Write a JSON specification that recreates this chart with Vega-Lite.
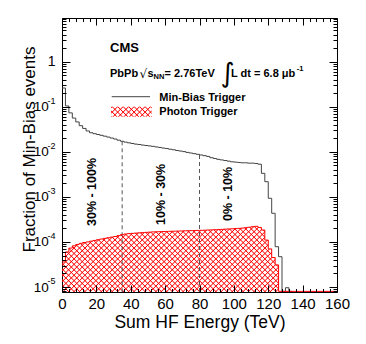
{
"$schema":"https://vega.github.io/schema/vega-lite/v6.json",
"width":275,"height":274,"autosize":"none",
"padding":{"left":62,"top":18,"right":29,"bottom":52},
"background":"white",
"config":{"view":{"stroke":"black","strokeWidth":1},"font":"Liberation Sans","axis":{"grid":false,"domain":false,"tickColor":"black","tickWidth":1,"labelColor":"black","titleColor":"black","labelFont":"Liberation Sans","titleFont":"Liberation Sans","titleFontWeight":"normal"},"text":{"font":"Liberation Sans","color":"black"}},
"datasets":{
"minbias":[{"e":0,"f":0.26},{"e":2,"f":0.104},{"e":4,"f":0.073},{"e":6,"f":0.056},{"e":8,"f":0.046},{"e":10,"f":0.038},{"e":12,"f":0.033},{"e":14,"f":0.029},{"e":16,"f":0.0265},{"e":18,"f":0.0252},{"e":20,"f":0.0242},{"e":22,"f":0.0232},{"e":24,"f":0.0222},{"e":26,"f":0.0212},{"e":28,"f":0.0202},{"e":30,"f":0.0192},{"e":32,"f":0.0181},{"e":34,"f":0.0171},{"e":36,"f":0.0164},{"e":38,"f":0.0158},{"e":40,"f":0.0153},{"e":42,"f":0.0148},{"e":44,"f":0.0145},{"e":46,"f":0.0141},{"e":48,"f":0.0138},{"e":50,"f":0.0135},{"e":52,"f":0.0132},{"e":54,"f":0.0128},{"e":56,"f":0.0125},{"e":58,"f":0.0121},{"e":60,"f":0.0118},{"e":62,"f":0.0114},{"e":64,"f":0.0111},{"e":66,"f":0.0107},{"e":68,"f":0.0104},{"e":70,"f":0.0101},{"e":72,"f":0.0097},{"e":74,"f":0.0094},{"e":76,"f":0.0091},{"e":78,"f":0.0088},{"e":80,"f":0.0085},{"e":82,"f":0.0082},{"e":84,"f":0.0079},{"e":86,"f":0.0074},{"e":88,"f":0.0071},{"e":90,"f":0.0068},{"e":92,"f":0.0066},{"e":94,"f":0.0064},{"e":96,"f":0.0062},{"e":98,"f":0.006},{"e":100,"f":0.0059},{"e":102,"f":0.0058},{"e":104,"f":0.0057},{"e":106,"f":0.0057},{"e":108,"f":0.0056},{"e":110,"f":0.0056},{"e":112,"f":0.0055},{"e":114,"f":0.0053},{"e":116,"f":0.00333},{"e":118,"f":0.00217},{"e":120,"f":0.00093},{"e":122,"f":0.000432},{"e":124,"f":0.0000784},{"e":126,"f":0.000047},{"e":128,"f":0.000008},{"e":130,"f":0.00000965},{"e":132,"f":0.000008},{"e":134,"f":0.000008}],
"photon":[{"e":0,"f":0.000036},{"e":2,"f":0.00006},{"e":4,"f":0.000073},{"e":6,"f":0.000082},{"e":8,"f":0.000088},{"e":10,"f":0.000093},{"e":12,"f":0.000097},{"e":14,"f":0.0001},{"e":16,"f":0.000104},{"e":18,"f":0.000108},{"e":20,"f":0.000112},{"e":22,"f":0.000116},{"e":24,"f":0.00012},{"e":26,"f":0.000124},{"e":28,"f":0.000128},{"e":30,"f":0.000132},{"e":32,"f":0.000138},{"e":34,"f":0.000145},{"e":36,"f":0.00015},{"e":38,"f":0.000153},{"e":40,"f":0.000155},{"e":42,"f":0.000157},{"e":44,"f":0.000159},{"e":46,"f":0.000161},{"e":48,"f":0.000163},{"e":50,"f":0.000165},{"e":52,"f":0.000167},{"e":54,"f":0.000168},{"e":56,"f":0.000169},{"e":58,"f":0.00017},{"e":60,"f":0.000171},{"e":62,"f":0.000172},{"e":64,"f":0.000173},{"e":66,"f":0.000174},{"e":68,"f":0.000175},{"e":70,"f":0.000176},{"e":72,"f":0.000177},{"e":74,"f":0.000178},{"e":76,"f":0.000179},{"e":78,"f":0.00018},{"e":80,"f":0.000181},{"e":82,"f":0.000182},{"e":84,"f":0.000184},{"e":86,"f":0.000185},{"e":88,"f":0.000187},{"e":90,"f":0.000188},{"e":92,"f":0.00019},{"e":94,"f":0.000192},{"e":96,"f":0.000194},{"e":98,"f":0.000196},{"e":100,"f":0.000198},{"e":102,"f":0.0002},{"e":104,"f":0.000203},{"e":106,"f":0.000207},{"e":108,"f":0.000212},{"e":110,"f":0.000218},{"e":112,"f":0.000222},{"e":114,"f":0.00021},{"e":116,"f":0.000184},{"e":118,"f":0.00011},{"e":120,"f":0.00007},{"e":122,"f":0.000045},{"e":124,"f":0.000031},{"e":126,"f":0.000008},{"e":160,"f":0.000008}],
"cuts":[{"e":35,"f":0.0171},{"e":80,"f":0.0085}],
"legline":[{"e":28.92,"e2":51.2,"f":0.1669}],
"legbox":[{"e":28.51,"e2":52.19,"f":0.1001,"f2":0.06006}],
"cms":[{"e":27.93,"f":1.663,"t":"CMS"}],
"main":[{"e":27.93,"f":0.4636,"t":"PbPb"},{"e":49.75,"f":0.4636,"t":"s"},{"e":59.64,"f":0.4636,"t":"= 2.76TeV"},{"e":98.33,"f":0.4636,"t":"L dt = 6.8 μb"}],
"rad":[{"e":45.09,"f":0.4338,"t":"√"}],
"integ":[{"e":92.2,"f":0.3535,"t":"∫"}],
"small":[{"e":53.24,"f":0.4018,"t":"NN"},{"e":136.6,"f":0.6203,"t":"-1"}],
"legtext":[{"e":56.61,"f":0.1374,"t":"Min-Bias Trigger"},{"e":56.61,"f":0.06553,"t":"Photon Trigger"}],
"cent":[{"e":17.28,"f":0.0002257,"t":"30% - 100%"},{"e":57.6,"f":0.0002376,"t":"10% - 30%"},{"e":96.4,"f":0.0002914,"t":"0% - 10%"}]
},
"resolve":{"axis":{"x":"independent","y":"independent"},"scale":{"x":"shared","y":"shared"}},
"layer":[
{"data":{"name":"photon"},
"mark":{"type":"area","interpolate":"step-after","clip":true,"strokeWidth":0,"fill":{"gradient":"linear","x1":0,"y1":0,"x2":1.1724,"y2":0.2809,"stops":[
{"offset":0,"color":"rgba(255,0,0,0)"},{"offset":0.0032,"color":"#ff0000"},{"offset":0.0064,"color":"rgba(255,0,0,0)"},
{"offset":0.016,"color":"rgba(255,0,0,0)"},{"offset":0.0192,"color":"#ff0000"},{"offset":0.0224,"color":"rgba(255,0,0,0)"},
{"offset":0.032,"color":"rgba(255,0,0,0)"},{"offset":0.0352,"color":"#ff0000"},{"offset":0.0384,"color":"rgba(255,0,0,0)"},
{"offset":0.048,"color":"rgba(255,0,0,0)"},{"offset":0.0512,"color":"#ff0000"},{"offset":0.0544,"color":"rgba(255,0,0,0)"},
{"offset":0.064,"color":"rgba(255,0,0,0)"},{"offset":0.0672,"color":"#ff0000"},{"offset":0.0704,"color":"rgba(255,0,0,0)"},
{"offset":0.08,"color":"rgba(255,0,0,0)"},{"offset":0.0832,"color":"#ff0000"},{"offset":0.0864,"color":"rgba(255,0,0,0)"},
{"offset":0.096,"color":"rgba(255,0,0,0)"},{"offset":0.0992,"color":"#ff0000"},{"offset":0.1024,"color":"rgba(255,0,0,0)"},
{"offset":0.112,"color":"rgba(255,0,0,0)"},{"offset":0.1152,"color":"#ff0000"},{"offset":0.1184,"color":"rgba(255,0,0,0)"},
{"offset":0.128,"color":"rgba(255,0,0,0)"},{"offset":0.1312,"color":"#ff0000"},{"offset":0.1344,"color":"rgba(255,0,0,0)"},
{"offset":0.144,"color":"rgba(255,0,0,0)"},{"offset":0.1472,"color":"#ff0000"},{"offset":0.1504,"color":"rgba(255,0,0,0)"},
{"offset":0.16,"color":"rgba(255,0,0,0)"},{"offset":0.1632,"color":"#ff0000"},{"offset":0.1664,"color":"rgba(255,0,0,0)"},
{"offset":0.176,"color":"rgba(255,0,0,0)"},{"offset":0.1792,"color":"#ff0000"},{"offset":0.1824,"color":"rgba(255,0,0,0)"},
{"offset":0.192,"color":"rgba(255,0,0,0)"},{"offset":0.1952,"color":"#ff0000"},{"offset":0.1984,"color":"rgba(255,0,0,0)"},
{"offset":0.208,"color":"rgba(255,0,0,0)"},{"offset":0.2112,"color":"#ff0000"},{"offset":0.2144,"color":"rgba(255,0,0,0)"},
{"offset":0.224,"color":"rgba(255,0,0,0)"},{"offset":0.2272,"color":"#ff0000"},{"offset":0.2304,"color":"rgba(255,0,0,0)"},
{"offset":0.24,"color":"rgba(255,0,0,0)"},{"offset":0.2432,"color":"#ff0000"},{"offset":0.2464,"color":"rgba(255,0,0,0)"},
{"offset":0.256,"color":"rgba(255,0,0,0)"},{"offset":0.2592,"color":"#ff0000"},{"offset":0.2624,"color":"rgba(255,0,0,0)"},
{"offset":0.272,"color":"rgba(255,0,0,0)"},{"offset":0.2752,"color":"#ff0000"},{"offset":0.2784,"color":"rgba(255,0,0,0)"},
{"offset":0.288,"color":"rgba(255,0,0,0)"},{"offset":0.2912,"color":"#ff0000"},{"offset":0.2944,"color":"rgba(255,0,0,0)"},
{"offset":0.304,"color":"rgba(255,0,0,0)"},{"offset":0.3072,"color":"#ff0000"},{"offset":0.3104,"color":"rgba(255,0,0,0)"},
{"offset":0.32,"color":"rgba(255,0,0,0)"},{"offset":0.3232,"color":"#ff0000"},{"offset":0.3264,"color":"rgba(255,0,0,0)"},
{"offset":0.336,"color":"rgba(255,0,0,0)"},{"offset":0.3392,"color":"#ff0000"},{"offset":0.3424,"color":"rgba(255,0,0,0)"},
{"offset":0.352,"color":"rgba(255,0,0,0)"},{"offset":0.3552,"color":"#ff0000"},{"offset":0.3584,"color":"rgba(255,0,0,0)"},
{"offset":0.368,"color":"rgba(255,0,0,0)"},{"offset":0.3712,"color":"#ff0000"},{"offset":0.3744,"color":"rgba(255,0,0,0)"},
{"offset":0.384,"color":"rgba(255,0,0,0)"},{"offset":0.3872,"color":"#ff0000"},{"offset":0.3904,"color":"rgba(255,0,0,0)"},
{"offset":0.4,"color":"rgba(255,0,0,0)"},{"offset":0.4032,"color":"#ff0000"},{"offset":0.4064,"color":"rgba(255,0,0,0)"},
{"offset":0.416,"color":"rgba(255,0,0,0)"},{"offset":0.4192,"color":"#ff0000"},{"offset":0.4224,"color":"rgba(255,0,0,0)"},
{"offset":0.432,"color":"rgba(255,0,0,0)"},{"offset":0.4352,"color":"#ff0000"},{"offset":0.4384,"color":"rgba(255,0,0,0)"},
{"offset":0.448,"color":"rgba(255,0,0,0)"},{"offset":0.4512,"color":"#ff0000"},{"offset":0.4544,"color":"rgba(255,0,0,0)"},
{"offset":0.464,"color":"rgba(255,0,0,0)"},{"offset":0.4672,"color":"#ff0000"},{"offset":0.4704,"color":"rgba(255,0,0,0)"},
{"offset":0.48,"color":"rgba(255,0,0,0)"},{"offset":0.4832,"color":"#ff0000"},{"offset":0.4864,"color":"rgba(255,0,0,0)"},
{"offset":0.496,"color":"rgba(255,0,0,0)"},{"offset":0.4992,"color":"#ff0000"},{"offset":0.5024,"color":"rgba(255,0,0,0)"},
{"offset":0.512,"color":"rgba(255,0,0,0)"},{"offset":0.5152,"color":"#ff0000"},{"offset":0.5184,"color":"rgba(255,0,0,0)"},
{"offset":0.528,"color":"rgba(255,0,0,0)"},{"offset":0.5312,"color":"#ff0000"},{"offset":0.5344,"color":"rgba(255,0,0,0)"},
{"offset":0.544,"color":"rgba(255,0,0,0)"},{"offset":0.5472,"color":"#ff0000"},{"offset":0.5504,"color":"rgba(255,0,0,0)"},
{"offset":0.56,"color":"rgba(255,0,0,0)"},{"offset":0.5632,"color":"#ff0000"},{"offset":0.5664,"color":"rgba(255,0,0,0)"},
{"offset":0.576,"color":"rgba(255,0,0,0)"},{"offset":0.5792,"color":"#ff0000"},{"offset":0.5824,"color":"rgba(255,0,0,0)"},
{"offset":0.592,"color":"rgba(255,0,0,0)"},{"offset":0.5952,"color":"#ff0000"},{"offset":0.5984,"color":"rgba(255,0,0,0)"},
{"offset":0.608,"color":"rgba(255,0,0,0)"},{"offset":0.6112,"color":"#ff0000"},{"offset":0.6144,"color":"rgba(255,0,0,0)"},
{"offset":0.624,"color":"rgba(255,0,0,0)"},{"offset":0.6272,"color":"#ff0000"},{"offset":0.6304,"color":"rgba(255,0,0,0)"},
{"offset":0.64,"color":"rgba(255,0,0,0)"},{"offset":0.6432,"color":"#ff0000"},{"offset":0.6464,"color":"rgba(255,0,0,0)"},
{"offset":0.656,"color":"rgba(255,0,0,0)"},{"offset":0.6592,"color":"#ff0000"},{"offset":0.6624,"color":"rgba(255,0,0,0)"},
{"offset":0.672,"color":"rgba(255,0,0,0)"},{"offset":0.6752,"color":"#ff0000"},{"offset":0.6784,"color":"rgba(255,0,0,0)"},
{"offset":0.688,"color":"rgba(255,0,0,0)"},{"offset":0.6912,"color":"#ff0000"},{"offset":0.6944,"color":"rgba(255,0,0,0)"},
{"offset":0.704,"color":"rgba(255,0,0,0)"},{"offset":0.7072,"color":"#ff0000"},{"offset":0.7104,"color":"rgba(255,0,0,0)"},
{"offset":0.72,"color":"rgba(255,0,0,0)"},{"offset":0.7232,"color":"#ff0000"},{"offset":0.7264,"color":"rgba(255,0,0,0)"},
{"offset":0.736,"color":"rgba(255,0,0,0)"},{"offset":0.7392,"color":"#ff0000"},{"offset":0.7424,"color":"rgba(255,0,0,0)"},
{"offset":0.752,"color":"rgba(255,0,0,0)"},{"offset":0.7552,"color":"#ff0000"},{"offset":0.7584,"color":"rgba(255,0,0,0)"},
{"offset":0.768,"color":"rgba(255,0,0,0)"},{"offset":0.7712,"color":"#ff0000"},{"offset":0.7744,"color":"rgba(255,0,0,0)"},
{"offset":0.784,"color":"rgba(255,0,0,0)"},{"offset":0.7872,"color":"#ff0000"},{"offset":0.7904,"color":"rgba(255,0,0,0)"},
{"offset":0.8,"color":"rgba(255,0,0,0)"},{"offset":0.8032,"color":"#ff0000"},{"offset":0.8064,"color":"rgba(255,0,0,0)"},
{"offset":0.816,"color":"rgba(255,0,0,0)"},{"offset":0.8192,"color":"#ff0000"},{"offset":0.8224,"color":"rgba(255,0,0,0)"},
{"offset":0.832,"color":"rgba(255,0,0,0)"},{"offset":0.8352,"color":"#ff0000"},{"offset":0.8384,"color":"rgba(255,0,0,0)"},
{"offset":0.848,"color":"rgba(255,0,0,0)"},{"offset":0.8512,"color":"#ff0000"},{"offset":0.8544,"color":"rgba(255,0,0,0)"},
{"offset":0.864,"color":"rgba(255,0,0,0)"},{"offset":0.8672,"color":"#ff0000"},{"offset":0.8704,"color":"rgba(255,0,0,0)"},
{"offset":0.88,"color":"rgba(255,0,0,0)"},{"offset":0.8832,"color":"#ff0000"},{"offset":0.8864,"color":"rgba(255,0,0,0)"},
{"offset":0.896,"color":"rgba(255,0,0,0)"},{"offset":0.8992,"color":"#ff0000"},{"offset":0.9024,"color":"rgba(255,0,0,0)"},
{"offset":0.912,"color":"rgba(255,0,0,0)"},{"offset":0.9152,"color":"#ff0000"},{"offset":0.9184,"color":"rgba(255,0,0,0)"},
{"offset":0.928,"color":"rgba(255,0,0,0)"},{"offset":0.9312,"color":"#ff0000"},{"offset":0.9344,"color":"rgba(255,0,0,0)"},
{"offset":0.944,"color":"rgba(255,0,0,0)"},{"offset":0.9472,"color":"#ff0000"},{"offset":0.9504,"color":"rgba(255,0,0,0)"},
{"offset":0.96,"color":"rgba(255,0,0,0)"},{"offset":0.9632,"color":"#ff0000"},{"offset":0.9664,"color":"rgba(255,0,0,0)"},
{"offset":0.976,"color":"rgba(255,0,0,0)"},{"offset":0.9792,"color":"#ff0000"},{"offset":0.9824,"color":"rgba(255,0,0,0)"},
{"offset":0.992,"color":"rgba(255,0,0,0)"},{"offset":0.9952,"color":"#ff0000"},{"offset":0.9984,"color":"rgba(255,0,0,0)"}]}},
"encoding":{
"x":{"field":"e","type":"quantitative","scale":{"domain":[0,160],"nice":false,"zero":false},"axis":{"orient":"bottom","values":[0,20,40,60,80,100,120,140,160],"tickSize":-7,"labelFontSize":15,"labelPadding":11,"labelFlush":false,"labelOverlap":false,"title":"Sum HF Energy (TeV)","titleFontSize":17.5,"titleY":35,"titleBaseline":"alphabetic","zindex":1}},
"y":{"field":"f","type":"quantitative","scale":{"type":"log","domain":[0.00000775,9.3],"nice":false},"axis":{"orient":"left","values":[0.00001,0.0001,0.001,0.01,0.1,1],"tickSize":-8,"labelExpr":"datum.value >= 1 ? '' : '10'","labelFontSize":13.5,"labelPadding":21.7,"labelAlign":"right","labelBaseline":"middle","labelOverlap":false,"labelFlush":false,"title":"Fraction of Min-Bias events","titleFontSize":17,"titleX":-28,"titleY":131,"titleAngle":270,"titleBaseline":"alphabetic","titleAlign":"center","zindex":1}},
"y2":{"datum":0.00000775}}},
{"data":{"name":"photon"},
"mark":{"type":"area","interpolate":"step-after","clip":true,"strokeWidth":0,"fill":{"gradient":"linear","x1":1,"y1":0,"x2":-0.1724,"y2":0.2809,"stops":[
{"offset":0,"color":"rgba(255,0,0,0)"},{"offset":0.0032,"color":"#ff0000"},{"offset":0.0064,"color":"rgba(255,0,0,0)"},
{"offset":0.016,"color":"rgba(255,0,0,0)"},{"offset":0.0192,"color":"#ff0000"},{"offset":0.0224,"color":"rgba(255,0,0,0)"},
{"offset":0.032,"color":"rgba(255,0,0,0)"},{"offset":0.0352,"color":"#ff0000"},{"offset":0.0384,"color":"rgba(255,0,0,0)"},
{"offset":0.048,"color":"rgba(255,0,0,0)"},{"offset":0.0512,"color":"#ff0000"},{"offset":0.0544,"color":"rgba(255,0,0,0)"},
{"offset":0.064,"color":"rgba(255,0,0,0)"},{"offset":0.0672,"color":"#ff0000"},{"offset":0.0704,"color":"rgba(255,0,0,0)"},
{"offset":0.08,"color":"rgba(255,0,0,0)"},{"offset":0.0832,"color":"#ff0000"},{"offset":0.0864,"color":"rgba(255,0,0,0)"},
{"offset":0.096,"color":"rgba(255,0,0,0)"},{"offset":0.0992,"color":"#ff0000"},{"offset":0.1024,"color":"rgba(255,0,0,0)"},
{"offset":0.112,"color":"rgba(255,0,0,0)"},{"offset":0.1152,"color":"#ff0000"},{"offset":0.1184,"color":"rgba(255,0,0,0)"},
{"offset":0.128,"color":"rgba(255,0,0,0)"},{"offset":0.1312,"color":"#ff0000"},{"offset":0.1344,"color":"rgba(255,0,0,0)"},
{"offset":0.144,"color":"rgba(255,0,0,0)"},{"offset":0.1472,"color":"#ff0000"},{"offset":0.1504,"color":"rgba(255,0,0,0)"},
{"offset":0.16,"color":"rgba(255,0,0,0)"},{"offset":0.1632,"color":"#ff0000"},{"offset":0.1664,"color":"rgba(255,0,0,0)"},
{"offset":0.176,"color":"rgba(255,0,0,0)"},{"offset":0.1792,"color":"#ff0000"},{"offset":0.1824,"color":"rgba(255,0,0,0)"},
{"offset":0.192,"color":"rgba(255,0,0,0)"},{"offset":0.1952,"color":"#ff0000"},{"offset":0.1984,"color":"rgba(255,0,0,0)"},
{"offset":0.208,"color":"rgba(255,0,0,0)"},{"offset":0.2112,"color":"#ff0000"},{"offset":0.2144,"color":"rgba(255,0,0,0)"},
{"offset":0.224,"color":"rgba(255,0,0,0)"},{"offset":0.2272,"color":"#ff0000"},{"offset":0.2304,"color":"rgba(255,0,0,0)"},
{"offset":0.24,"color":"rgba(255,0,0,0)"},{"offset":0.2432,"color":"#ff0000"},{"offset":0.2464,"color":"rgba(255,0,0,0)"},
{"offset":0.256,"color":"rgba(255,0,0,0)"},{"offset":0.2592,"color":"#ff0000"},{"offset":0.2624,"color":"rgba(255,0,0,0)"},
{"offset":0.272,"color":"rgba(255,0,0,0)"},{"offset":0.2752,"color":"#ff0000"},{"offset":0.2784,"color":"rgba(255,0,0,0)"},
{"offset":0.288,"color":"rgba(255,0,0,0)"},{"offset":0.2912,"color":"#ff0000"},{"offset":0.2944,"color":"rgba(255,0,0,0)"},
{"offset":0.304,"color":"rgba(255,0,0,0)"},{"offset":0.3072,"color":"#ff0000"},{"offset":0.3104,"color":"rgba(255,0,0,0)"},
{"offset":0.32,"color":"rgba(255,0,0,0)"},{"offset":0.3232,"color":"#ff0000"},{"offset":0.3264,"color":"rgba(255,0,0,0)"},
{"offset":0.336,"color":"rgba(255,0,0,0)"},{"offset":0.3392,"color":"#ff0000"},{"offset":0.3424,"color":"rgba(255,0,0,0)"},
{"offset":0.352,"color":"rgba(255,0,0,0)"},{"offset":0.3552,"color":"#ff0000"},{"offset":0.3584,"color":"rgba(255,0,0,0)"},
{"offset":0.368,"color":"rgba(255,0,0,0)"},{"offset":0.3712,"color":"#ff0000"},{"offset":0.3744,"color":"rgba(255,0,0,0)"},
{"offset":0.384,"color":"rgba(255,0,0,0)"},{"offset":0.3872,"color":"#ff0000"},{"offset":0.3904,"color":"rgba(255,0,0,0)"},
{"offset":0.4,"color":"rgba(255,0,0,0)"},{"offset":0.4032,"color":"#ff0000"},{"offset":0.4064,"color":"rgba(255,0,0,0)"},
{"offset":0.416,"color":"rgba(255,0,0,0)"},{"offset":0.4192,"color":"#ff0000"},{"offset":0.4224,"color":"rgba(255,0,0,0)"},
{"offset":0.432,"color":"rgba(255,0,0,0)"},{"offset":0.4352,"color":"#ff0000"},{"offset":0.4384,"color":"rgba(255,0,0,0)"},
{"offset":0.448,"color":"rgba(255,0,0,0)"},{"offset":0.4512,"color":"#ff0000"},{"offset":0.4544,"color":"rgba(255,0,0,0)"},
{"offset":0.464,"color":"rgba(255,0,0,0)"},{"offset":0.4672,"color":"#ff0000"},{"offset":0.4704,"color":"rgba(255,0,0,0)"},
{"offset":0.48,"color":"rgba(255,0,0,0)"},{"offset":0.4832,"color":"#ff0000"},{"offset":0.4864,"color":"rgba(255,0,0,0)"},
{"offset":0.496,"color":"rgba(255,0,0,0)"},{"offset":0.4992,"color":"#ff0000"},{"offset":0.5024,"color":"rgba(255,0,0,0)"},
{"offset":0.512,"color":"rgba(255,0,0,0)"},{"offset":0.5152,"color":"#ff0000"},{"offset":0.5184,"color":"rgba(255,0,0,0)"},
{"offset":0.528,"color":"rgba(255,0,0,0)"},{"offset":0.5312,"color":"#ff0000"},{"offset":0.5344,"color":"rgba(255,0,0,0)"},
{"offset":0.544,"color":"rgba(255,0,0,0)"},{"offset":0.5472,"color":"#ff0000"},{"offset":0.5504,"color":"rgba(255,0,0,0)"},
{"offset":0.56,"color":"rgba(255,0,0,0)"},{"offset":0.5632,"color":"#ff0000"},{"offset":0.5664,"color":"rgba(255,0,0,0)"},
{"offset":0.576,"color":"rgba(255,0,0,0)"},{"offset":0.5792,"color":"#ff0000"},{"offset":0.5824,"color":"rgba(255,0,0,0)"},
{"offset":0.592,"color":"rgba(255,0,0,0)"},{"offset":0.5952,"color":"#ff0000"},{"offset":0.5984,"color":"rgba(255,0,0,0)"},
{"offset":0.608,"color":"rgba(255,0,0,0)"},{"offset":0.6112,"color":"#ff0000"},{"offset":0.6144,"color":"rgba(255,0,0,0)"},
{"offset":0.624,"color":"rgba(255,0,0,0)"},{"offset":0.6272,"color":"#ff0000"},{"offset":0.6304,"color":"rgba(255,0,0,0)"},
{"offset":0.64,"color":"rgba(255,0,0,0)"},{"offset":0.6432,"color":"#ff0000"},{"offset":0.6464,"color":"rgba(255,0,0,0)"},
{"offset":0.656,"color":"rgba(255,0,0,0)"},{"offset":0.6592,"color":"#ff0000"},{"offset":0.6624,"color":"rgba(255,0,0,0)"},
{"offset":0.672,"color":"rgba(255,0,0,0)"},{"offset":0.6752,"color":"#ff0000"},{"offset":0.6784,"color":"rgba(255,0,0,0)"},
{"offset":0.688,"color":"rgba(255,0,0,0)"},{"offset":0.6912,"color":"#ff0000"},{"offset":0.6944,"color":"rgba(255,0,0,0)"},
{"offset":0.704,"color":"rgba(255,0,0,0)"},{"offset":0.7072,"color":"#ff0000"},{"offset":0.7104,"color":"rgba(255,0,0,0)"},
{"offset":0.72,"color":"rgba(255,0,0,0)"},{"offset":0.7232,"color":"#ff0000"},{"offset":0.7264,"color":"rgba(255,0,0,0)"},
{"offset":0.736,"color":"rgba(255,0,0,0)"},{"offset":0.7392,"color":"#ff0000"},{"offset":0.7424,"color":"rgba(255,0,0,0)"},
{"offset":0.752,"color":"rgba(255,0,0,0)"},{"offset":0.7552,"color":"#ff0000"},{"offset":0.7584,"color":"rgba(255,0,0,0)"},
{"offset":0.768,"color":"rgba(255,0,0,0)"},{"offset":0.7712,"color":"#ff0000"},{"offset":0.7744,"color":"rgba(255,0,0,0)"},
{"offset":0.784,"color":"rgba(255,0,0,0)"},{"offset":0.7872,"color":"#ff0000"},{"offset":0.7904,"color":"rgba(255,0,0,0)"},
{"offset":0.8,"color":"rgba(255,0,0,0)"},{"offset":0.8032,"color":"#ff0000"},{"offset":0.8064,"color":"rgba(255,0,0,0)"},
{"offset":0.816,"color":"rgba(255,0,0,0)"},{"offset":0.8192,"color":"#ff0000"},{"offset":0.8224,"color":"rgba(255,0,0,0)"},
{"offset":0.832,"color":"rgba(255,0,0,0)"},{"offset":0.8352,"color":"#ff0000"},{"offset":0.8384,"color":"rgba(255,0,0,0)"},
{"offset":0.848,"color":"rgba(255,0,0,0)"},{"offset":0.8512,"color":"#ff0000"},{"offset":0.8544,"color":"rgba(255,0,0,0)"},
{"offset":0.864,"color":"rgba(255,0,0,0)"},{"offset":0.8672,"color":"#ff0000"},{"offset":0.8704,"color":"rgba(255,0,0,0)"},
{"offset":0.88,"color":"rgba(255,0,0,0)"},{"offset":0.8832,"color":"#ff0000"},{"offset":0.8864,"color":"rgba(255,0,0,0)"},
{"offset":0.896,"color":"rgba(255,0,0,0)"},{"offset":0.8992,"color":"#ff0000"},{"offset":0.9024,"color":"rgba(255,0,0,0)"},
{"offset":0.912,"color":"rgba(255,0,0,0)"},{"offset":0.9152,"color":"#ff0000"},{"offset":0.9184,"color":"rgba(255,0,0,0)"},
{"offset":0.928,"color":"rgba(255,0,0,0)"},{"offset":0.9312,"color":"#ff0000"},{"offset":0.9344,"color":"rgba(255,0,0,0)"},
{"offset":0.944,"color":"rgba(255,0,0,0)"},{"offset":0.9472,"color":"#ff0000"},{"offset":0.9504,"color":"rgba(255,0,0,0)"},
{"offset":0.96,"color":"rgba(255,0,0,0)"},{"offset":0.9632,"color":"#ff0000"},{"offset":0.9664,"color":"rgba(255,0,0,0)"},
{"offset":0.976,"color":"rgba(255,0,0,0)"},{"offset":0.9792,"color":"#ff0000"},{"offset":0.9824,"color":"rgba(255,0,0,0)"},
{"offset":0.992,"color":"rgba(255,0,0,0)"},{"offset":0.9952,"color":"#ff0000"},{"offset":0.9984,"color":"rgba(255,0,0,0)"}]}},
"encoding":{
"x":{"field":"e","type":"quantitative","scale":{"domain":[0,160],"nice":false,"zero":false},"axis":{"orient":"bottom","values":[4,8,12,16,24,28,32,36,44,48,52,56,64,68,72,76,84,88,92,96,104,108,112,116,124,128,132,136,144,148,152,156],"tickSize":-3.5,"labels":false,"title":null,"zindex":1}},
"y":{"field":"f","type":"quantitative","scale":{"type":"log","domain":[0.00000775,9.3],"nice":false},"axis":{"orient":"left","values":[0.00001,0.0001,0.001,0.01,0.1,1],"ticks":false,"labelExpr":"datum.value >= 1 ? '1' : '-' + round(-log(datum.value)/LN10)","labelFontSize":{"condition":{"test":"datum.value >= 1","value":14},"value":9},"labelOffset":{"condition":{"test":"datum.value >= 1","value":0},"value":-6.5},"labelPadding":7,"labelAlign":"right","labelBaseline":"middle","labelOverlap":false,"labelFlush":false,"title":null}},
"y2":{"datum":0.00000775}}},
{"data":{"name":"cuts"},
"mark":{"type":"rule","color":"#555555","strokeDash":[4,3],"strokeWidth":1,"clip":true},
"encoding":{
"x":{"field":"e","type":"quantitative","scale":{"domain":[0,160],"nice":false,"zero":false},"axis":{"orient":"top","values":[0,20,40,60,80,100,120,140,160],"tickSize":-7,"labels":false,"title":null,"zindex":1}},
"y":{"field":"f","type":"quantitative","scale":{"type":"log","domain":[0.00000775,9.3],"nice":false},"axis":{"orient":"left","values":[0.000008,0.000009,0.00002,0.00003,0.00004,0.00005,0.00006,0.00007,0.00008,0.00009,0.0002,0.0003,0.0004,0.0005,0.0006,0.0007,0.0008,0.0009,0.002,0.003,0.004,0.005,0.006,0.007,0.008,0.009,0.02,0.03,0.04,0.05,0.06,0.07,0.08,0.09,0.2,0.3,0.4,0.5,0.6,0.7,0.8,0.9,2,3,4,5,6,7,8,9],"tickSize":-4,"labels":false,"title":null,"zindex":1}},
"y2":{"datum":0.00000775}}},
{"data":{"name":"minbias"},
"mark":{"type":"line","interpolate":"step-after","clip":true,"color":"#444444","strokeWidth":1},
"encoding":{
"x":{"field":"e","type":"quantitative","scale":{"domain":[0,160],"nice":false,"zero":false},"axis":{"orient":"top","values":[4,8,12,16,24,28,32,36,44,48,52,56,64,68,72,76,84,88,92,96,104,108,112,116,124,128,132,136,144,148,152,156],"tickSize":-3.5,"labels":false,"title":null,"zindex":1}},
"y":{"field":"f","type":"quantitative","scale":{"type":"log","domain":[0.00000775,9.3],"nice":false},"axis":{"orient":"right","values":[0.00001,0.0001,0.001,0.01,0.1,1],"tickSize":-8,"labels":false,"title":null,"zindex":1}}}},
{"data":{"name":"photon"},
"mark":{"type":"line","interpolate":"step-after","clip":true,"color":"#ff0000","strokeWidth":1},
"encoding":{
"x":{"field":"e","type":"quantitative","scale":{"domain":[0,160],"nice":false,"zero":false},"axis":null},
"y":{"field":"f","type":"quantitative","scale":{"type":"log","domain":[0.00000775,9.3],"nice":false},"axis":{"orient":"right","values":[0.000008,0.000009,0.00002,0.00003,0.00004,0.00005,0.00006,0.00007,0.00008,0.00009,0.0002,0.0003,0.0004,0.0005,0.0006,0.0007,0.0008,0.0009,0.002,0.003,0.004,0.005,0.006,0.007,0.008,0.009,0.02,0.03,0.04,0.05,0.06,0.07,0.08,0.09,0.2,0.3,0.4,0.5,0.6,0.7,0.8,0.9,2,3,4,5,6,7,8,9],"tickSize":-4,"labels":false,"title":null,"zindex":1}}}},
{"data":{"name":"legline"},
"mark":{"type":"rule","color":"#444444","strokeWidth":1},
"encoding":{
"x":{"field":"e","type":"quantitative","scale":{"domain":[0,160],"nice":false,"zero":false},"axis":null},
"x2":{"field":"e2"},
"y":{"field":"f","type":"quantitative","scale":{"type":"log","domain":[0.00000775,9.3],"nice":false},"axis":null}}},
{"data":{"name":"legbox"},
"mark":{"type":"rect","strokeWidth":0,"fill":{"gradient":"linear","x1":0,"y1":0,"x2":1.1748,"y2":0.2886,"stops":[
{"offset":0,"color":"rgba(255,0,0,0)"},{"offset":0.0215,"color":"#ff0000"},{"offset":0.043,"color":"rgba(255,0,0,0)"},
{"offset":0.108,"color":"rgba(255,0,0,0)"},{"offset":0.1295,"color":"#ff0000"},{"offset":0.151,"color":"rgba(255,0,0,0)"},
{"offset":0.216,"color":"rgba(255,0,0,0)"},{"offset":0.2375,"color":"#ff0000"},{"offset":0.259,"color":"rgba(255,0,0,0)"},
{"offset":0.324,"color":"rgba(255,0,0,0)"},{"offset":0.3455,"color":"#ff0000"},{"offset":0.367,"color":"rgba(255,0,0,0)"},
{"offset":0.432,"color":"rgba(255,0,0,0)"},{"offset":0.4535,"color":"#ff0000"},{"offset":0.475,"color":"rgba(255,0,0,0)"},
{"offset":0.54,"color":"rgba(255,0,0,0)"},{"offset":0.5615,"color":"#ff0000"},{"offset":0.583,"color":"rgba(255,0,0,0)"},
{"offset":0.648,"color":"rgba(255,0,0,0)"},{"offset":0.6695,"color":"#ff0000"},{"offset":0.691,"color":"rgba(255,0,0,0)"},
{"offset":0.756,"color":"rgba(255,0,0,0)"},{"offset":0.7775,"color":"#ff0000"},{"offset":0.799,"color":"rgba(255,0,0,0)"},
{"offset":0.864,"color":"rgba(255,0,0,0)"},{"offset":0.8855,"color":"#ff0000"},{"offset":0.907,"color":"rgba(255,0,0,0)"},
{"offset":0.972,"color":"rgba(255,0,0,0)"},{"offset":0.9935,"color":"#ff0000"},{"offset":1,"color":"rgba(255,0,0,0)"}]}},
"encoding":{
"x":{"field":"e","type":"quantitative","scale":{"domain":[0,160],"nice":false,"zero":false},"axis":null},
"x2":{"field":"e2"},
"y":{"field":"f","type":"quantitative","scale":{"type":"log","domain":[0.00000775,9.3],"nice":false},"axis":null},
"y2":{"field":"f2"}}},
{"data":{"name":"legbox"},
"mark":{"type":"rect","strokeWidth":0,"fill":{"gradient":"linear","x1":1,"y1":0,"x2":-0.1748,"y2":0.2886,"stops":[
{"offset":0,"color":"rgba(255,0,0,0)"},{"offset":0.0215,"color":"#ff0000"},{"offset":0.043,"color":"rgba(255,0,0,0)"},
{"offset":0.108,"color":"rgba(255,0,0,0)"},{"offset":0.1295,"color":"#ff0000"},{"offset":0.151,"color":"rgba(255,0,0,0)"},
{"offset":0.216,"color":"rgba(255,0,0,0)"},{"offset":0.2375,"color":"#ff0000"},{"offset":0.259,"color":"rgba(255,0,0,0)"},
{"offset":0.324,"color":"rgba(255,0,0,0)"},{"offset":0.3455,"color":"#ff0000"},{"offset":0.367,"color":"rgba(255,0,0,0)"},
{"offset":0.432,"color":"rgba(255,0,0,0)"},{"offset":0.4535,"color":"#ff0000"},{"offset":0.475,"color":"rgba(255,0,0,0)"},
{"offset":0.54,"color":"rgba(255,0,0,0)"},{"offset":0.5615,"color":"#ff0000"},{"offset":0.583,"color":"rgba(255,0,0,0)"},
{"offset":0.648,"color":"rgba(255,0,0,0)"},{"offset":0.6695,"color":"#ff0000"},{"offset":0.691,"color":"rgba(255,0,0,0)"},
{"offset":0.756,"color":"rgba(255,0,0,0)"},{"offset":0.7775,"color":"#ff0000"},{"offset":0.799,"color":"rgba(255,0,0,0)"},
{"offset":0.864,"color":"rgba(255,0,0,0)"},{"offset":0.8855,"color":"#ff0000"},{"offset":0.907,"color":"rgba(255,0,0,0)"},
{"offset":0.972,"color":"rgba(255,0,0,0)"},{"offset":0.9935,"color":"#ff0000"},{"offset":1,"color":"rgba(255,0,0,0)"}]}},
"encoding":{
"x":{"field":"e","type":"quantitative","scale":{"domain":[0,160],"nice":false,"zero":false},"axis":null},
"x2":{"field":"e2"},
"y":{"field":"f","type":"quantitative","scale":{"type":"log","domain":[0.00000775,9.3],"nice":false},"axis":null},
"y2":{"field":"f2"}}},
{"data":{"name":"cms"},
"mark":{"type":"text","font":"Liberation Sans","fontWeight":"bold","fontSize":13,"align":"left","baseline":"alphabetic","color":"black"},
"encoding":{"x":{"field":"e","type":"quantitative","scale":{"domain":[0,160],"nice":false,"zero":false},"axis":null},"y":{"field":"f","type":"quantitative","scale":{"type":"log","domain":[0.00000775,9.3],"nice":false},"axis":null},"text":{"field":"t"}}},
{"data":{"name":"main"},
"mark":{"type":"text","font":"Liberation Sans","fontWeight":"bold","fontSize":11,"align":"left","baseline":"alphabetic","color":"black"},
"encoding":{"x":{"field":"e","type":"quantitative","scale":{"domain":[0,160],"nice":false,"zero":false},"axis":null},"y":{"field":"f","type":"quantitative","scale":{"type":"log","domain":[0.00000775,9.3],"nice":false},"axis":null},"text":{"field":"t"}}},
{"data":{"name":"rad"},
"mark":{"type":"text","font":"DejaVu Sans","fontWeight":"normal","fontSize":12,"align":"left","baseline":"alphabetic","color":"black"},
"encoding":{"x":{"field":"e","type":"quantitative","scale":{"domain":[0,160],"nice":false,"zero":false},"axis":null},"y":{"field":"f","type":"quantitative","scale":{"type":"log","domain":[0.00000775,9.3],"nice":false},"axis":null},"text":{"field":"t"}}},
{"data":{"name":"integ"},
"mark":{"type":"text","font":"DejaVu Sans","fontWeight":"normal","fontSize":27,"align":"left","baseline":"alphabetic","color":"black"},
"encoding":{"x":{"field":"e","type":"quantitative","scale":{"domain":[0,160],"nice":false,"zero":false},"axis":null},"y":{"field":"f","type":"quantitative","scale":{"type":"log","domain":[0.00000775,9.3],"nice":false},"axis":null},"text":{"field":"t"}}},
{"data":{"name":"small"},
"mark":{"type":"text","font":"Liberation Sans","fontWeight":"bold","fontSize":7.5,"align":"left","baseline":"alphabetic","color":"black"},
"encoding":{"x":{"field":"e","type":"quantitative","scale":{"domain":[0,160],"nice":false,"zero":false},"axis":null},"y":{"field":"f","type":"quantitative","scale":{"type":"log","domain":[0.00000775,9.3],"nice":false},"axis":null},"text":{"field":"t"}}},
{"data":{"name":"legtext"},
"mark":{"type":"text","font":"Liberation Sans","fontWeight":"bold","fontSize":11,"align":"left","baseline":"alphabetic","color":"black"},
"encoding":{"x":{"field":"e","type":"quantitative","scale":{"domain":[0,160],"nice":false,"zero":false},"axis":null},"y":{"field":"f","type":"quantitative","scale":{"type":"log","domain":[0.00000775,9.3],"nice":false},"axis":null},"text":{"field":"t"}}},
{"data":{"name":"cent"},
"mark":{"type":"text","font":"Liberation Sans","fontWeight":"bold","fontSize":12.5,"align":"left","baseline":"middle","angle":270,"color":"black"},
"encoding":{"x":{"field":"e","type":"quantitative","scale":{"domain":[0,160],"nice":false,"zero":false},"axis":null},"y":{"field":"f","type":"quantitative","scale":{"type":"log","domain":[0.00000775,9.3],"nice":false},"axis":null},"text":{"field":"t"}}}
]
}
